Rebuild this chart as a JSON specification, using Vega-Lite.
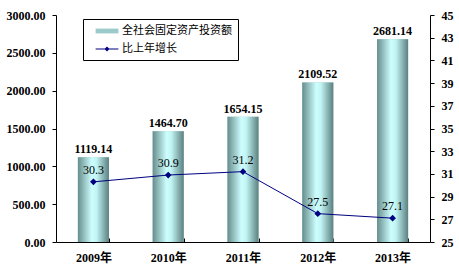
{
  "$schema": "https://vega.github.io/schema/vega-lite/v6.json",
  "width": 374,
  "height": 227,
  "autosize": {"type": "none"},
  "padding": {"left": 56, "top": 15, "right": 29, "bottom": 31},
  "background": "white",
  "config": {
    "view": {"stroke": null},
    "font": "Liberation Serif"
  },
  "data": {
    "values": [
      {"year": "2009年", "invest": 1119.14, "growth": 30.3},
      {"year": "2010年", "invest": 1464.70, "growth": 30.9},
      {"year": "2011年", "invest": 1654.15, "growth": 31.2},
      {"year": "2012年", "invest": 2109.52, "growth": 27.5},
      {"year": "2013年", "invest": 2681.14, "growth": 27.1}
    ]
  },
  "encoding": {
    "x": {
      "field": "year", "type": "nominal", "sort": null,
      "scale": {"paddingInner": 0.585, "paddingOuter": 0.2925},
      "axis": {
        "title": null, "labelAngle": 0, "domainColor": "black", "tickColor": "black",
        "tickBand": "extent", "tickSize": -4, "labelPadding": 14,
        "labelFont": "Liberation Serif, Noto Sans CJK SC", "labelFontWeight": "bold",
        "labelFontSize": 12, "labelColor": "black"
      }
    }
  },
  "layer": [
    {
      "encoding": {
        "y": {
          "field": "invest", "type": "quantitative",
          "scale": {"domain": [0, 3000]},
          "axis": {
            "title": null, "values": [0, 500, 1000, 1500, 2000, 2500, 3000], "format": ".2f",
            "grid": false, "domainColor": "black", "tickColor": "black", "tickSize": 4,
            "labelPadding": 7, "labelFontWeight": "bold", "labelFontSize": 12, "labelColor": "black"
          }
        }
      },
      "layer": [
        {
          "mark": {"type": "bar"},
          "encoding": {
            "color": {
              "datum": "全社会固定资产投资额",
              "scale": {
                "domain": ["全社会固定资产投资额", "比上年增长"],
                "range": ["#9cc9c9", "#000080"]
              },
              "legend": {
                "title": null, "orient": "none", "legendX": 27, "legendY": 4,
                "strokeColor": "black", "padding": 6, "rowPadding": 7,
                "symbolOffset": 12, "labelOffset": 9, "symbolSize": 144,
                "symbolStrokeWidth": 0,
                "labelFont": "Noto Sans CJK SC", "labelFontSize": 11, "labelColor": "black",
                "encode": {
                  "symbols": {
                    "update": {
                      "shape": [
                        {"test": "datum.value === '全社会固定资产投资额'", "value": "M-1.9,-0.4H1.9V0.4H-1.9Z"},
                        {"value": "M-1.9,-0.08H1.9V0.08H-1.9Z M0,-0.42L0.42,0L0,0.42L-0.42,0Z"}
                      ],
                      "fill": [
                        {"test": "datum.value === '全社会固定资产投资额'",
                         "value": {"gradient": "linear", "x1": 0, "y1": 0, "x2": 1, "y2": 0,
                           "stops": [
                             {"offset": 0, "color": "#6b9292"},
                             {"offset": 0.5, "color": "#cdfefe"},
                             {"offset": 1, "color": "#9ccaca"}
                           ]}},
                        {"value": "#000080"}
                      ],
                      "opacity": {"value": 1}
                    }
                  }
                }
              }
            }
          }
        },
        {
          "mark": {
            "type": "bar",
            "fill": {"gradient": "linear", "x1": 0, "y1": 0, "x2": 1, "y2": 0,
              "stops": [
                {"offset": 0, "color": "#678d8d"},
                {"offset": 0.45, "color": "#cdfefe"},
                {"offset": 0.6, "color": "#c2f4f4"},
                {"offset": 1, "color": "#5b8080"}
              ]}
          }
        },
        {
          "mark": {"type": "text", "dy": -8, "fontWeight": "bold", "fontSize": 12, "color": "black"},
          "encoding": {
            "text": {"field": "invest", "type": "quantitative", "format": ".2f"}
          }
        }
      ]
    },
    {
      "encoding": {
        "y": {
          "field": "growth", "type": "quantitative",
          "scale": {"domain": [25, 45], "zero": false},
          "axis": {
            "title": null, "orient": "right", "values": [25, 27, 29, 31, 33, 35, 37, 39, 41, 43, 45],
            "grid": false, "domainColor": "black", "tickColor": "black", "tickSize": 4,
            "labelPadding": 7, "labelFontWeight": "bold", "labelFontSize": 12, "labelColor": "black"
          }
        }
      },
      "layer": [
        {
          "mark": {"type": "line", "color": "#000080", "strokeWidth": 1}
        },
        {
          "mark": {"type": "point", "filled": true, "size": 45, "opacity": 0},
          "encoding": {
            "color": {"datum": "比上年增长"}
          }
        },
        {
          "mark": {"type": "point", "filled": true, "size": 45, "opacity": 1, "shape": "diamond", "color": "#000080"}
        },
        {
          "mark": {"type": "text", "dy": -12, "fontSize": 12, "color": "black"},
          "encoding": {
            "text": {"field": "growth", "type": "quantitative", "format": ".1f"}
          }
        }
      ]
    }
  ],
  "resolve": {"scale": {"y": "independent"}}
}
